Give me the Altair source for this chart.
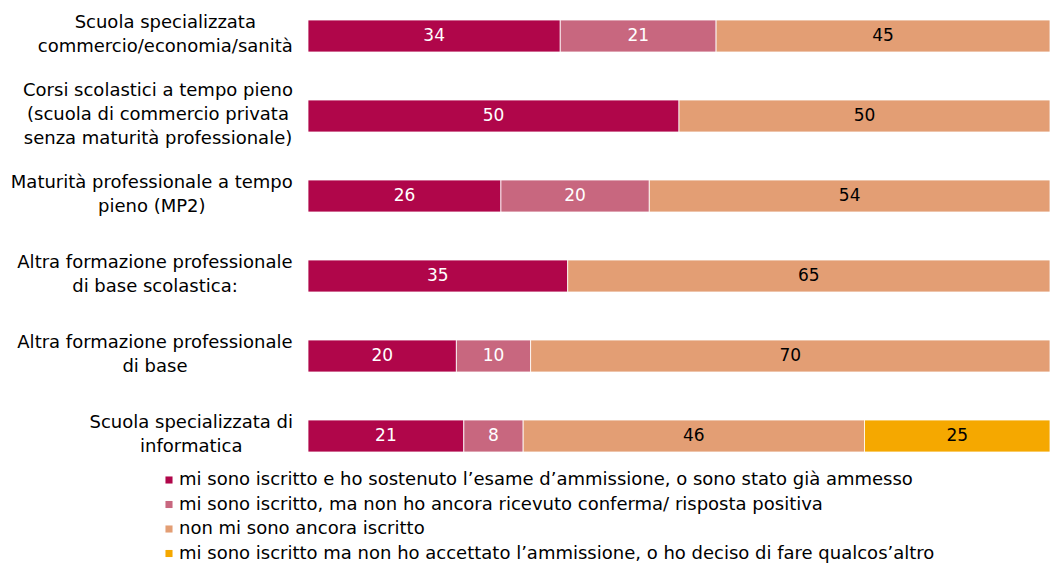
import altair as alt
import pandas as pd

categories = [
    "Scuola specializzata\ncommercio/economia/sanità",
    "Corsi scolastici a tempo pieno\n(scuola di commercio privata\nsenza maturità professionale)",
    "Maturità professionale a tempo\npieno (MP2)",
    "Altra formazione professionale\ndi base scolastica:",
    "Altra formazione professionale\ndi base",
    "Scuola specializzata di\ninformatica",
]
series = [
    "mi sono iscritto e ho sostenuto l’esame d’ammissione, o sono stato già ammesso",
    "mi sono iscritto, ma non ho ancora ricevuto conferma/ risposta positiva",
    "non mi sono ancora iscritto",
    "mi sono iscritto ma non ho accettato l’ammissione, o ho deciso di fare qualcos’altro",
]
s1 = [34, 50, 26, 35, 20, 21]
s2 = [21, 0, 20, 0, 10, 8]
s3 = [45, 50, 54, 65, 70, 46]
s4 = [0, 0, 0, 0, 0, 25]
colors = ["#B0064A", "#C8677F", "#E39E74", "#F5A800"]

rows = []
for k, vals in enumerate([s1, s2, s3, s4]):
    for c, v in zip(categories, vals):
        rows.append({"category": c, "series": series[k], "idx": k, "value": v})
df = pd.DataFrame(rows)

FONT = "DejaVu Sans"
LABEL_SIZE = 18
LINE_H = 24
BAND_MID = 15  # half of the bar thickness (offset channels start at the band's top)

# approximate DejaVu Sans advance widths (em), used to right-align each centred label block
W = {' ': .318, 'a': .613, 'b': .635, 'c': .550, 'd': .635, 'e': .615, 'f': .352, 'g': .635,
     'h': .634, 'i': .278, 'j': .278, 'k': .579, 'l': .278, 'm': .974, 'n': .634, 'o': .612,
     'p': .635, 'q': .635, 'r': .411, 's': .521, 't': .392, 'u': .634, 'v': .592, 'w': .818,
     'x': .592, 'y': .592, 'z': .525, 'à': .613, '(': .390, ')': .390, '/': .337, ':': .337,
     'A': .684, 'C': .698, 'M': .863, 'P': .603, 'S': .635, '2': .636}


def tw(s):
    return sum(W.get(ch, .6) for ch in s) * LABEL_SIZE


lab_rows = []
for c in categories:
    lines = c.split("\n")
    hw = max(tw(l) for l in lines) / 2
    lab_rows.append({"category": c, "lx": -15 - hw,
                     "dy": BAND_MID - (len(lines) - 1) * LINE_H / 2})
lab_df = pd.DataFrame(lab_rows)

ysc = alt.Scale(paddingInner=0.6, paddingOuter=0.15)
xscale = alt.Scale(domain=[0, 100], nice=False, zero=True)

base = alt.Chart(df).transform_filter("datum.value > 0").transform_stack(
    stack="value", groupby=["category"], as_=["x0", "x1"],
    sort=[alt.SortField("idx", order="ascending")],
).transform_calculate(mid="(datum.x0 + datum.x1) / 2")

bars = base.mark_bar(stroke="white", strokeWidth=0.8).encode(
    y=alt.Y("category:N", sort=categories, title=None, scale=ysc, axis=None),
    x=alt.X("x0:Q", scale=xscale, axis=None),
    x2="x1:Q",
    color=alt.Color(
        "series:N", sort=series,
        scale=alt.Scale(domain=series, range=colors),
        legend=alt.Legend(
            title=None, orient="none", legendX=-148, legendY=463,
            labelFont=FONT, labelFontSize=18, labelLimit=1000, labelColor="black",
            symbolType="square", symbolSize=50, symbolStrokeWidth=0,
            rowPadding=6.5, labelOffset=1, padding=0, direction="vertical",
        ),
    ),
)

texts = base.mark_text(font=FONT, fontSize=17, baseline="middle", align="center").encode(
    y=alt.Y("category:N", sort=categories),
    x=alt.X("mid:Q", scale=xscale),
    text=alt.Text("value:Q"),
    color=alt.condition("datum.idx < 2", alt.value("white"), alt.value("black")),
)

labels = alt.Chart(lab_df).mark_text(
    font=FONT, fontSize=LABEL_SIZE, align="center", baseline="middle",
    lineHeight=LINE_H, lineBreak="\n", color="black",
).encode(
    y=alt.Y("category:N", sort=categories),
    x=alt.value(0),
    xOffset=alt.XOffset("lx:Q", scale=None),
    yOffset=alt.YOffset("dy:Q", scale=None),
    text="category:N",
)

chart = alt.layer(bars, texts, labels).properties(
    width=742, height=456,
    padding={"left": 300, "top": 0, "right": 0, "bottom": 103},
    autosize=alt.AutoSizeParams(type="none"),
).configure_view(stroke=None)

chart.save("out.html", embed_options={"renderer": "svg", "actions": False})
